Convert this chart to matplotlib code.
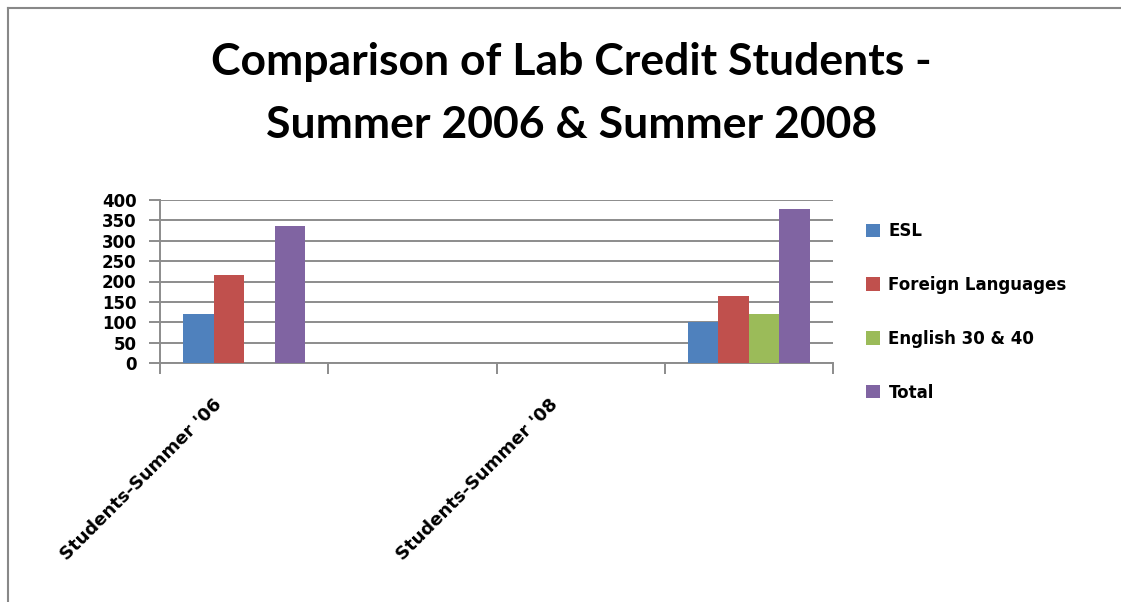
import numpy as np
import matplotlib.pyplot as plt
from matplotlib.lines import Line2D
from matplotlib.transforms import ScaledTranslation

# chart data
categories = ["Students-Summer '06", "", "Students-Summer '08", ""]
series_names = ["ESL", "Foreign Languages", "English 30 & 40", "Total"]
esl = [120, 0, 0, 100]
foreign = [217, 0, 0, 164]
english = [0, 0, 0, 120]
total = [335, 0, 0, 379]
yticks = [0, 50, 100, 150, 200, 250, 300, 350, 400]

colors = ['#4F81BD', '#C0504D', '#9BBB59', '#8064A2']
small_font = 'DejaVu Sans'
title_font = 'Lato'
grid_col = '#8c8c8c'

fig = plt.figure(figsize=(11.21, 6.02), dpi=100)
ax = fig.add_axes([160/1121, (602-363)/602, (833-160)/1121, (363-200)/602])

x = np.arange(len(categories))
w = 0.182
for i, (vals, name) in enumerate(zip([esl, foreign, english, total], series_names)):
    ax.bar(x + (i - 1.5) * w, vals, width=w, color=colors[i], label=name, zorder=3)

ax.set_xlim(-0.5, len(categories) - 0.5)
ax.set_ylim(0, 400)
ax.set_yticks(yticks)
ax.set_yticklabels([str(v) for v in yticks], fontsize=12, fontweight='bold', family=small_font)
ax.yaxis.grid(True, color=grid_col, lw=1.4, zorder=0)

# slot boundaries as major ticks, category names as minor ticks
ax.set_xticks(np.arange(-0.5, len(categories), 1.0))
ax.set_xticklabels([])
ax.set_xticks(x, minor=True)
ax.set_xticklabels(categories, minor=True, rotation=45, ha='right', va='center',
                   rotation_mode='anchor', fontsize=13, fontweight='bold', family=small_font)
ax.tick_params(axis='x', which='minor', length=0, pad=0)
ax.tick_params(axis='x', which='major', length=8, color=grid_col, width=1.4)
ax.tick_params(axis='y', length=8, color=grid_col, width=1.4, pad=9)

# shift the rotated category names down-left under their slot
shift = ScaledTranslation(-0.25, -0.385, fig.dpi_scale_trans)
for lab in ax.get_xticklabels(minor=True):
    lab.set_transform(lab.get_transform() + shift)

for s in ['top', 'right']:
    ax.spines[s].set_visible(False)
for s in ['left', 'bottom']:
    ax.spines[s].set_color(grid_col)
    ax.spines[s].set_linewidth(1.4)

leg = fig.legend(loc='upper left', bbox_to_anchor=(851/1121, 1 - 207/602), frameon=False,
                 prop={'family': small_font, 'weight': 'bold', 'size': 12},
                 handlelength=0.85, handleheight=0.85, handletextpad=0.5, labelspacing=2.15)

fig.text(0.51, 1 - 75/602, "Comparison of Lab Credit Students -", ha='center', va='baseline',
         fontsize=32, fontweight='bold', family=title_font)
fig.text(0.51, 1 - 138/602, "Summer 2006 & Summer 2008", ha='center', va='baseline',
         fontsize=32, fontweight='bold', family=title_font)

# outer chart frame (left and top edges)
fig.add_artist(Line2D([8/1121, 8/1121], [0, 1 - 8/602], transform=fig.transFigure, color='#888888', lw=1.5))
fig.add_artist(Line2D([8/1121, 1], [1 - 8/602, 1 - 8/602], transform=fig.transFigure, color='#888888', lw=1.5))

fig.savefig('out.png', dpi=100)
